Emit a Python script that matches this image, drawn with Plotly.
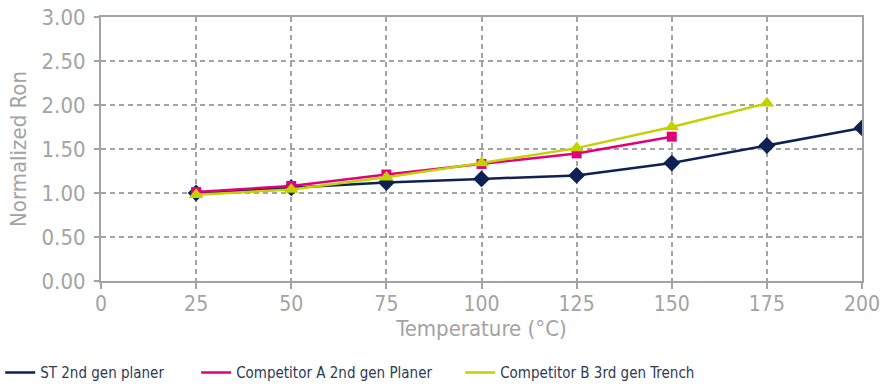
import plotly.graph_objects as go

# Temperatures (°C) and normalized Ron for each device
temp_st = [25, 50, 75, 100, 125, 150, 175, 200]
ron_st = [1.00, 1.06, 1.12, 1.16, 1.20, 1.34, 1.54, 1.74]

temp_a = [25, 50, 75, 100, 125, 150]
ron_a = [1.01, 1.08, 1.21, 1.33, 1.45, 1.64]

temp_b = [25, 50, 75, 100, 125, 150, 175]
ron_b = [0.98, 1.04, 1.18, 1.34, 1.51, 1.75, 2.02]

names = ["ST 2nd gen planer", "Competitor A 2nd gen Planer", "Competitor B 3rd gen Trench"]
colors = ["#0d2152", "#e2007a", "#c2d100"]
symbols = ["diamond", "square", "triangle-up"]
msizes = [13, 10, 13]

FONT = "DejaVu Sans Condensed, Liberation Sans, sans-serif"
GRAY = "#a3a3a3"

fig = go.Figure()

series = [(temp_st, ron_st), (temp_a, ron_a), (temp_b, ron_b)]
for (xs, ys), name, col, sym, ms in zip(series, names, colors, symbols, msizes):
    fig.add_trace(go.Scatter(
        x=xs, y=ys, mode="lines+markers", name=name, showlegend=False,
        line=dict(color=col, width=2.5),
        marker=dict(symbol=sym, size=ms, color=col),
    ))

# Legend entries show only the line, one legend per entry so they can be placed
legend_ids = ["legend", "legend2", "legend3"]
for name, col, lg in zip(names, colors, legend_ids):
    fig.add_trace(go.Scatter(
        x=[None], y=[None], mode="lines", name=name, legend=lg,
        line=dict(color=col, width=2.5),
    ))

leg_font = dict(family=FONT, size=15, color="#2d3a55")
leg_common = dict(orientation="h", xanchor="left", y=-0.348, yanchor="middle",
                  font=leg_font, itemwidth=30, bgcolor="rgba(0,0,0,0)")

fig.update_layout(
    width=880, height=387,
    margin=dict(l=101, r=18, t=17, b=106, autoexpand=False),
    plot_bgcolor="white", paper_bgcolor="white",
    font=dict(family=FONT, color=GRAY),
    legend=dict(x=-0.1325, **leg_common),
    legend2=dict(x=0.125, **leg_common),
    legend3=dict(x=0.472, **leg_common),
    xaxis=dict(
        range=[0, 200], tickvals=[0, 25, 50, 75, 100, 125, 150, 175, 200],
        showgrid=True, gridcolor=GRAY, griddash="5px,4px", gridwidth=2,
        showline=True, linecolor=GRAY, linewidth=2, mirror=True,
        ticks="outside", ticklen=6, tickcolor=GRAY, tickwidth=2,
        ticklabelstandoff=-3, ticklabeloverflow="allow",
        tickfont=dict(family=FONT, size=21, color=GRAY),
        title=dict(text="Temperature (°C)", font=dict(family=FONT, size=22, color=GRAY), standoff=3),
        zeroline=False,
    ),
    yaxis=dict(
        range=[0, 3], tickvals=[0, 0.5, 1, 1.5, 2, 2.5, 3], tickformat=".2f",
        showgrid=True, gridcolor=GRAY, griddash="5px,4px", gridwidth=2,
        showline=True, linecolor=GRAY, linewidth=2, mirror=True,
        ticks="outside", ticklen=5, tickcolor=GRAY, tickwidth=2,
        ticklabelstandoff=4, ticklabeloverflow="allow",
        tickfont=dict(family=FONT, size=22, color=GRAY),
        title=dict(text="Normalized Ron", font=dict(family=FONT, size=22, color=GRAY), standoff=9),
        zeroline=False,
    ),
)

# drop the default 8px page margin so the figure fills the window
fig.write_html("out.html", config={"displayModeBar": False},
               post_script="document.body.style.margin = '0px';")
